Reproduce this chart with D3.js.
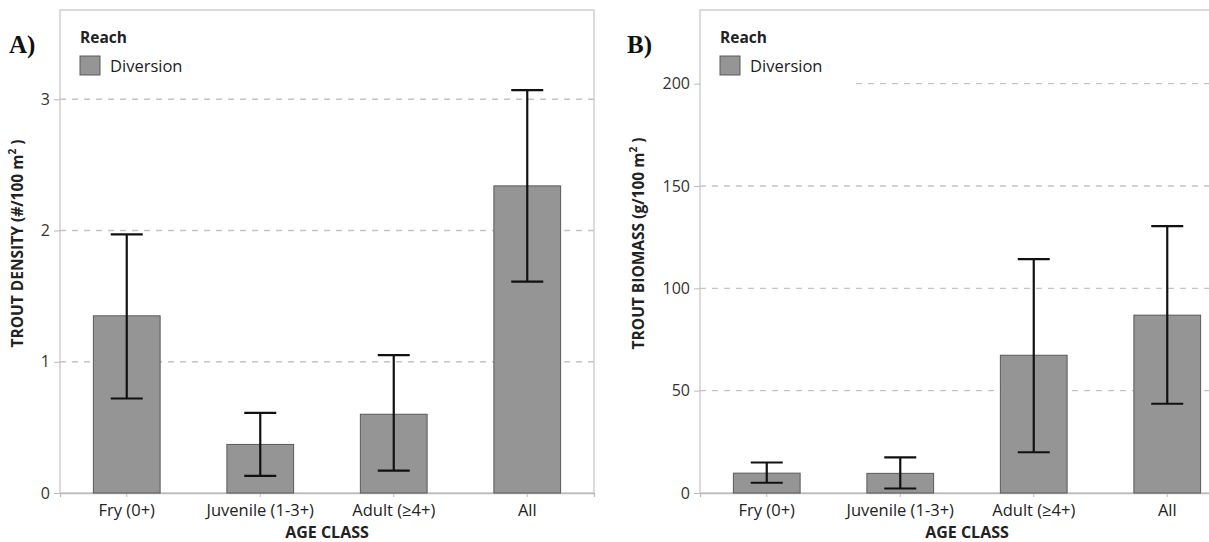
<!DOCTYPE html>
<html>
<head>
<meta charset="utf-8">
<script src="https://cdn.jsdelivr.net/npm/d3@7"></script>
<style>
  body { margin: 0; background: #fff; }
  svg { display: block; }
  text { font-family: "Open Sans", "Liberation Sans", sans-serif; }
</style>
</head>
<body>
<div id="chart"></div>
<script>
// Age classes on the x axis
const ageClasses = ["Fry (0+)", "Juvenile (1-3+)", "Adult (\u22654+)", "All"];

// Panel A: trout density (#/100 m2), mean and error bar ends
const densityMean = [1.35, 0.37, 0.60, 2.34];
const densityLow = [0.72, 0.13, 0.17, 1.61];
const densityHigh = [1.97, 0.61, 1.05, 3.07];
const densityTicks = [0, 1, 2, 3];

// Panel B: trout biomass (g/100 m2)
const biomassMean = [9.7, 9.6, 67.3, 86.9];
const biomassLow = [5.0, 2.2, 19.9, 43.6];
const biomassHigh = [14.9, 17.4, 114.3, 130.4];
const biomassTicks = [0, 50, 100, 150, 200];

const svg = d3.select("#chart")
    .append("svg")
    .attr("width", 1209)
    .attr("height", 542);

function drawPanel(opts) {
    const width = 534, height = 483;
    const g = svg.append("g")
        .attr("transform", "translate(" + opts.left + "," + opts.top + ")");

    const x = d3.scaleBand()
        .domain(ageClasses)
        .range([0, width])
        .paddingInner(0.5)
        .paddingOuter(0.25);

    const y = d3.scaleLinear()
        .domain([0, opts.yMax])
        .range([height, 0]);

    // dashed gridlines
    g.selectAll(".grid")
        .data(opts.ticks.filter(t => t > 0))
        .enter().append("line")
        .attr("x1", 0)
        .attr("x2", width)
        .attr("y1", d => y(d))
        .attr("y2", d => y(d))
        .attr("stroke", "#c4c4c4")
        .attr("stroke-width", 1.3)
        .attr("stroke-dasharray", "6,6");

    // legend background hides gridline under it
    g.append("rect")
        .attr("x", 1)
        .attr("y", 1)
        .attr("width", 154)
        .attr("height", 84)
        .attr("fill", "#fff");

    // frame
    g.append("rect")
        .attr("width", width)
        .attr("height", height)
        .attr("fill", "none")
        .attr("stroke", "#c8c8c8")
        .attr("stroke-width", 1.3);

    // y axis
    const yAxis = g.append("g")
        .call(d3.axisLeft(y).tickValues(opts.ticks).tickSize(6).tickPadding(4).tickFormat(d3.format("d")));
    yAxis.select(".domain").remove();
    yAxis.selectAll("line").attr("stroke", "#bbb");
    yAxis.selectAll("text")
        .style("font-size", "16px")
        .attr("fill", "#333");

    // x axis
    const xAxis = g.append("g")
        .attr("transform", "translate(0," + height + ")")
        .call(d3.axisBottom(x).tickSize(4).tickPadding(7));
    xAxis.select(".domain").attr("stroke", "#bbb").attr("stroke-width", 1.3);
    xAxis.selectAll("line").attr("stroke", "#bbb");
    xAxis.selectAll("text")
        .style("font-size", "16.5px")
        .attr("fill", "#222");

    // bars
    g.selectAll(".bar")
        .data(ageClasses)
        .enter().append("rect")
        .attr("x", d => x(d))
        .attr("y", (d, i) => y(opts.mean[i]))
        .attr("width", x.bandwidth())
        .attr("height", (d, i) => height - y(opts.mean[i]))
        .attr("fill", "#959595")
        .attr("stroke", "#5a5a5a")
        .attr("stroke-width", 1);

    // error bars
    const cx = d => x(d) + x.bandwidth() / 2;
    const err = g.selectAll(".err")
        .data(ageClasses)
        .enter().append("g")
        .attr("stroke", "#111")
        .attr("stroke-width", 2.2);
    err.append("line")
        .attr("x1", cx).attr("x2", cx)
        .attr("y1", (d, i) => y(opts.low[i]))
        .attr("y2", (d, i) => y(opts.high[i]));
    err.append("line")
        .attr("x1", d => cx(d) - 16).attr("x2", d => cx(d) + 16)
        .attr("y1", (d, i) => y(opts.high[i]))
        .attr("y2", (d, i) => y(opts.high[i]));
    err.append("line")
        .attr("x1", d => cx(d) - 16).attr("x2", d => cx(d) + 16)
        .attr("y1", (d, i) => y(opts.low[i]))
        .attr("y2", (d, i) => y(opts.low[i]));

    // legend
    g.append("text")
        .attr("x", 20)
        .attr("y", 33)
        .style("font-size", "15.5px")
        .style("font-weight", "bold")
        .attr("fill", "#222")
        .text("Reach");
    g.append("rect")
        .attr("x", 20)
        .attr("y", 46)
        .attr("width", 20)
        .attr("height", 19)
        .attr("fill", "#959595")
        .attr("stroke", "#5a5a5a");
    g.append("text")
        .attr("x", 50)
        .attr("y", 62)
        .style("font-size", "16.5px")
        .attr("fill", "#222")
        .text("Diversion");

    // x axis title
    g.append("text")
        .attr("x", width / 2)
        .attr("y", height + 45)
        .attr("text-anchor", "middle")
        .style("font-size", "16px")
        .style("font-weight", "bold")
        .attr("fill", "#222")
        .text("AGE CLASS");

    // y axis title
    const yt = g.append("text")
        .attr("transform", "translate(" + opts.titleX + "," + (height / 2 - 8) + ") rotate(-90)")
        .attr("text-anchor", "middle")
        .style("font-size", "15.5px")
        .style("font-weight", "bold")
        .attr("fill", "#222");
    yt.append("tspan").text(opts.title);
    yt.append("tspan").attr("dy", -7).style("font-size", "10px").text("2");
    yt.append("tspan").attr("dy", 7).text(" )");

    // panel letter
    svg.append("text")
        .attr("x", opts.letterX)
        .attr("y", 53)
        .style("font-family", "'Liberation Serif', 'DejaVu Serif', serif")
        .style("font-size", "25px")
        .style("font-weight", "bold")
        .attr("fill", "#111")
        .text(opts.letter);
}

drawPanel({
    left: 60, top: 10, yMax: 3.68,
    ticks: densityTicks,
    mean: densityMean, low: densityLow, high: densityHigh,
    title: "TROUT DENSITY (#/100 m", titleX: -37,
    letter: "A)", letterX: 9
});

drawPanel({
    left: 700, top: 10, yMax: 236,
    ticks: biomassTicks,
    mean: biomassMean, low: biomassLow, high: biomassHigh,
    title: "TROUT BIOMASS (g/100 m", titleX: -56,
    letter: "B)", letterX: 627
});
</script>
</body>
</html>
